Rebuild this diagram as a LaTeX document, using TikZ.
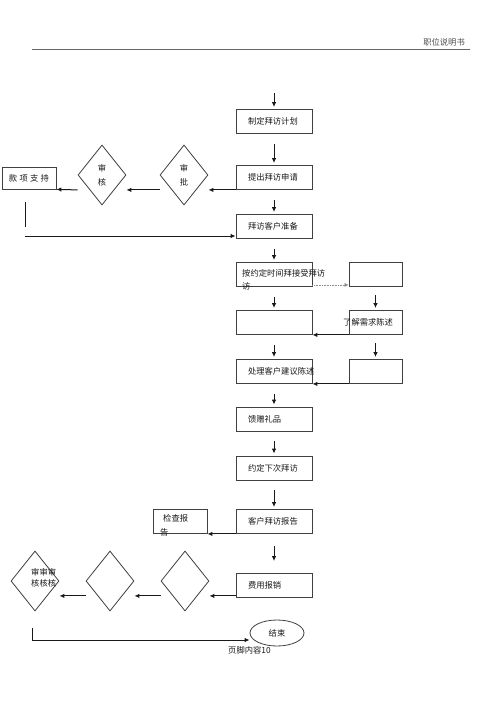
\documentclass[tikz,border=0pt]{standalone}
\usepackage{fontspec}
\newfontfamily\cjk{Noto Sans CJK SC}
\usetikzlibrary{shapes.geometric,arrows.meta}
\newcommand{\bxt}[1]{\makebox[52pt][l]{#1}}
\begin{document}
\begin{tikzpicture}[x=1pt,y=-1pt,
  box/.style={draw=black!75,line width=0.8pt,inner xsep=12pt,inner ysep=0pt,minimum height=24pt,font=\cjk\fontsize{8.3}{10}\selectfont,text=black!90},
  sbox/.style={draw=black!75,line width=0.8pt,minimum width=53pt,minimum height=24pt,inner sep=0pt},
  dia/.style={draw=black!75,line width=0.8pt,diamond,minimum width=48pt,minimum height=60pt,inner sep=0pt,font=\cjk\fontsize{8.3}{14}\selectfont,align=center,text=black!90},
  txt/.style={inner sep=0pt,font=\cjk\fontsize{8.3}{10}\selectfont,text=black!90},
  flow/.style={-{Latex[length=5pt,width=4.5pt]},line width=1pt,black!90}]
\useasboundingbox (0,0) rectangle (500,707);
% header
\node[txt,anchor=east,text=black!70] (head) at (465,42) {职位说明书};
\draw[black!60,line width=0.8pt] (32,49) -- (470,49);
% main column
\node[box] (jh) at (274,121.5) {\bxt{制定拜访计划}};
\node[box] (sq) at (274,177.5) {\bxt{提出拜访申请}};
\node[box] (zb) at (274,226.5) {\bxt{拜访客户准备}};
\node[box] (jf) at (274,274.5) {\bxt{}};
\node[txt,anchor=west,align=left,font=\cjk\fontsize{8.3}{13}\selectfont] (jft) at (242,280) {按约定时间拜接受拜访\\访};
\node[box] (k5) at (274,322.5) {\bxt{}};
\node[box] (cl) at (274,371.5) {\bxt{处理客户建议陈述}};
\node[box] (kz) at (274,419) {\bxt{馈赠礼品}};
\node[box] (yd) at (274,468) {\bxt{约定下次拜访}};
\node[box] (bg) at (274,521.5) {\bxt{客户拜访报告}};
\node[box] (fy) at (274,585.5) {\bxt{费用报销}};
\node[draw=black!75,line width=0.8pt,ellipse,minimum width=54pt,minimum height=26pt,inner sep=0pt,font=\cjk\fontsize{8.3}{10}\selectfont,text=black!90] (js) at (277,633) {结束};
% right column
\node[sbox] (r1) at (375.5,274.5) {};
\node[sbox] (r2) at (375.5,322.5) {};
\node[sbox] (r3) at (375.5,371.5) {};
\node[txt,anchor=west] (r2t) at (343,322.5) {了解需求陈述};
% approval branch
\node[dia] (sp) at (184,175) {审\\批};
\node[dia] (sh) at (102,175) {审\\核};
\node[draw=black!75,line width=0.8pt,minimum width=54pt,minimum height=22pt,inner sep=0pt,font=\cjk\fontsize{8.3}{10}\selectfont,text=black!90] (kx) at (29,178) {\makebox[40pt][s]{款\hfil 项\hfil 支\hfil 持}};
% report branch
\node[draw=black!75,line width=0.8pt,minimum width=54pt,minimum height=24pt,inner sep=0pt] (jc) at (180,521.5) {};
\node[txt,anchor=north west,align=left,font=\cjk\fontsize{8.3}{14}\selectfont] (jct) at (160,514) {\hspace{3pt}检查报\\告};
\node[dia] (d3) at (185,581) {};
\node[dia] (d2) at (110,581) {};
\node[dia] (d1) at (35,581) {};
\node[txt,anchor=north west,align=left,font=\cjk\fontsize{8.3}{11}\selectfont] (d1t) at (31,568) {审审审\\核核核};
\node[txt,anchor=west] (foot) at (228,650) {页脚内容10};
% connectors
\coordinate (top) at (274,93);
\draw[flow,shorten >=2pt] (top) -- (jh);
\foreach \a/\b in {jh/sq,sq/zb,zb/jf,jf/k5,k5/cl,cl/kz,kz/yd,yd/bg}{
\draw[flow,shorten <=10pt,shorten >=2pt] (\a) -- (\b);
}
\draw[flow,shorten <=12pt,shorten >=12pt] (bg) -- (fy);
\draw[-{Latex[length=4pt,width=4pt]},black!45,line width=0.6pt,densely dotted] ([yshift=2pt]jf.south east) -- ([yshift=2pt]r1.south west);
\draw[flow,shorten <=8pt,shorten >=2pt] (r1) -- (r2);
\draw[flow,shorten <=8pt,shorten >=2pt] (r2) -- (r3);
\draw[flow] (r2.south west) -- (k5.south east);
\draw[flow] (r3.south west) -- (cl.south east);
\draw[flow] (sq.south west) -- (sp.east |- sq.south west);
\draw[flow] (sp.west |- sq.south west) -- (sh.east |- sq.south west);
\draw[flow] (sh.west |- sq.south west) -- (kx.south east);
\coordinate (kxa) at (25,202);
\coordinate (kxb) at (25,227);
\coordinate (kxc) at (25,236);
\draw[line width=1pt,black!90] (kxa) -- (kxb);
\draw[flow] (kxc) -- (zb.west |- kxc);
\draw[flow] (bg.south west) -- (jc.south east);
\coordinate (fyb) at ([yshift=2pt]fy.south west);
\draw[flow] (fyb) -- (d3.east |- fyb);
\draw[flow] (d3.west |- fyb) -- (d2.east |- fyb);
\draw[flow] (d2.west |- fyb) -- (d1.east |- fyb);
\coordinate (ea) at (32,628);
\coordinate (eb) at (32,640);
\draw[flow] (ea) -- (eb) -- (js.west |- eb);
\end{tikzpicture}
\end{document}
